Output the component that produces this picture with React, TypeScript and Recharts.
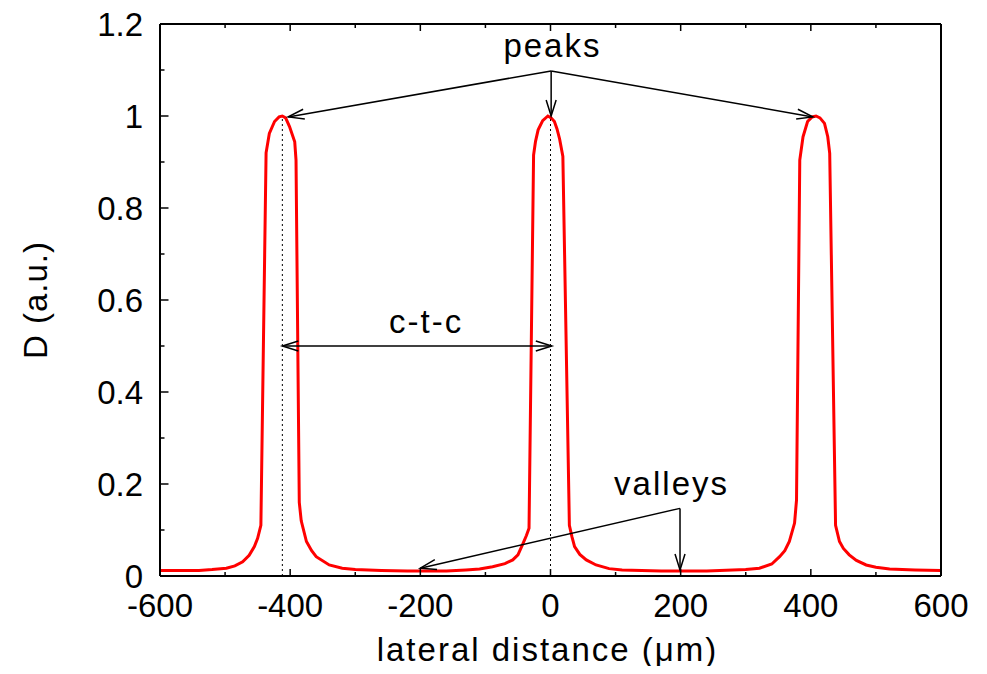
import React from 'react';
import { LineChart, Line, XAxis, YAxis, ReferenceLine, ReferenceDot } from 'recharts';

const FONT = '"Liberation Sans", Arial, sans-serif';

const xTicks = [-600, -500, -400, -300, -200, -100, 0, 100, 200, 300, 400, 500, 600];
const yTicks = [0, 0.1, 0.2, 0.3, 0.4, 0.5, 0.6, 0.7, 0.8, 0.9, 1.0, 1.1, 1.2];

// lateral distance (um) -> D (a.u.)
const profile: [number, number][] = [
  [-600, 0.012], [-560, 0.012], [-540, 0.012], [-520, 0.014], [-498, 0.017],
  [-485, 0.022], [-473, 0.031], [-463, 0.045], [-455, 0.064], [-450, 0.082],
  [-445, 0.11], [-437, 0.92], [-432, 0.962], [-424, 0.988], [-417, 0.998],
  [-412, 1.0], [-407, 0.996], [-401, 0.977], [-393, 0.944], [-391, 0.904],
  [-386, 0.16], [-383, 0.12], [-375, 0.075], [-367, 0.055], [-360, 0.042],
  [-340, 0.024], [-320, 0.017], [-300, 0.014], [-260, 0.012], [-220, 0.011],
  [-200, 0.011], [-160, 0.011], [-130, 0.013], [-109, 0.015], [-89, 0.02],
  [-70, 0.027], [-58, 0.035], [-50, 0.046], [-43, 0.068], [-37, 0.088],
  [-33, 0.104], [-26, 0.915], [-23, 0.945], [-19, 0.97], [-12, 0.99],
  [-4, 1.0], [1, 0.996], [6, 0.988], [10, 0.972], [14, 0.95],
  [19, 0.912], [29, 0.11], [33, 0.085], [37, 0.064], [45, 0.047],
  [55, 0.035], [70, 0.024], [90, 0.016], [110, 0.013], [140, 0.012],
  [170, 0.011], [200, 0.011], [240, 0.011], [280, 0.013], [300, 0.014],
  [321, 0.017], [340, 0.026], [352, 0.042], [360, 0.055], [367, 0.075],
  [375, 0.115], [378, 0.165], [383, 0.904], [388, 0.955], [395, 0.988],
  [402, 0.998], [408, 1.0], [414, 0.996], [421, 0.984], [426, 0.955],
  [429, 0.919], [438, 0.11], [444, 0.075], [450, 0.06], [459, 0.046],
  [470, 0.034], [485, 0.024], [500, 0.019], [521, 0.015], [560, 0.013],
  [600, 0.012],
];

const peakCentres = [-412, 0];
const peakArrowFrom = { x: 1, y: 1.098 };
const peakArrowTips = [{ x: -403, y: 0.998 }, { x: 1, y: 1.0 }, { x: 403, y: 0.998 }];
const ctcSpan = [{ x: -412, y: 0.5 }, { x: 2, y: 0.5 }];
const valleyArrowFrom = { x: 199, y: 0.147 };
const valleyArrowTips = [{ x: -200, y: 0.017 }, { x: 199, y: 0.013 }];
const notes = [
  { text: 'peaks', x: 3, y: 1.129 },
  { text: 'c-t-c', x: -191, y: 0.528 },
  { text: 'valleys', x: 186, y: 0.176 },
];

const data = profile.map(([x, d]) => ({ x, d }));

const head = (x1: number, y1: number, x2: number, y2: number) => {
  const a = Math.atan2(y2 - y1, x2 - x1);
  const len = 16;
  const w = 5;
  const bx = x2 - len * Math.cos(a);
  const by = y2 - len * Math.sin(a);
  const px = -Math.sin(a) * w;
  const py = Math.cos(a) * w;
  return (
    <polyline
      points={`${bx + px},${by + py} ${x2},${y2} ${bx - px},${by - py}`}
      fill="none"
      stroke="#000"
      strokeWidth={1.5}
    />
  );
};

const arrow = (both: boolean) => (p: any) => (
  <g>
    <line x1={p.x1} y1={p.y1} x2={p.x2} y2={p.y2} stroke="#000" strokeWidth={1.5} />
    {head(p.x1, p.y1, p.x2, p.y2)}
    {both && head(p.x2, p.y2, p.x1, p.y1)}
  </g>
);

const isMajorX = (v: number) => v % 200 === 0;
const isMajorY = (v: number) => Math.round(v * 10) % 2 === 0;
const yText = (v: number) => (v === 0 ? '0' : v === 1 ? '1' : v.toFixed(1));

const BottomTick = (p: any) => {
  const v = p.payload.value;
  return (
    <g>
      <line x1={p.x} y1={p.y} x2={p.x} y2={p.y - (isMajorX(v) ? 7 : 4)} stroke="#000" strokeWidth={1.5} />
      {isMajorX(v) && (
        <text x={p.x} y={p.y + 41} textAnchor="middle" fontSize={33} fontFamily={FONT} fill="#000">
          {v}
        </text>
      )}
    </g>
  );
};

const TopTick = (p: any) => {
  const v = p.payload.value;
  return <line x1={p.x} y1={p.y} x2={p.x} y2={p.y + (isMajorX(v) ? 7 : 4)} stroke="#000" strokeWidth={1.5} />;
};

const LeftTick = (p: any) => {
  const v = p.payload.value;
  return (
    <g>
      <line x1={p.x} y1={p.y} x2={p.x + (isMajorY(v) ? 8.5 : 4.5)} y2={p.y} stroke="#000" strokeWidth={1.5} />
      {isMajorY(v) && (
        <text x={p.x - 17} y={p.y + 12} textAnchor="end" fontSize={33} fontFamily={FONT} fill="#000">
          {yText(v)}
        </text>
      )}
    </g>
  );
};

const RightTick = (p: any) => {
  const v = p.payload.value;
  return <line x1={p.x} y1={p.y} x2={p.x - (isMajorY(v) ? 8.5 : 4.5)} y2={p.y} stroke="#000" strokeWidth={1.5} />;
};

const XTitle = (p: any) => {
  const vb = p.viewBox || { x: 160, y: 576, width: 781 };
  return (
    <text x={vb.x + vb.width / 2 - 3} y={vb.y + 85} textAnchor="middle" fontSize={33} fontFamily={FONT} letterSpacing={2} fill="#000">
      lateral distance (μm)
    </text>
  );
};

const YTitle = (p: any) => {
  const vb = p.viewBox || { x: 0, y: 24, width: 160, height: 552 };
  const x = vb.x + vb.width - 113;
  const y = vb.y + vb.height / 2;
  return (
    <text x={x} y={y} transform={`rotate(-90, ${x}, ${y})`} textAnchor="middle" fontSize={33} fontFamily={FONT} letterSpacing={1} fill="#000">
      D (a.u.)
    </text>
  );
};

const axisLine = { stroke: '#000', strokeWidth: 2 };

export default function App() {
  return (
    <div style={{ margin: -8, background: '#fff' }}>
      <LineChart width={987} height={674} data={data} margin={{ top: 0, right: 0, bottom: 0, left: 0 }}>
        <XAxis
          dataKey="x"
          type="number"
          domain={[-600, 600]}
          ticks={xTicks}
          interval={0}
          height={98}
          tickSize={0}
          tickMargin={0}
          tickLine={false}
          axisLine={axisLine}
          tick={<BottomTick />}
          label={<XTitle />}
        />
        <XAxis
          xAxisId="top"
          orientation="top"
          dataKey="x"
          type="number"
          domain={[-600, 600]}
          ticks={xTicks}
          interval={0}
          height={24}
          tickSize={0}
          tickMargin={0}
          tickLine={false}
          axisLine={axisLine}
          tick={<TopTick />}
        />
        <YAxis
          type="number"
          domain={[0, 1.2]}
          ticks={yTicks}
          interval={0}
          width={160}
          tickSize={0}
          tickMargin={0}
          tickLine={false}
          axisLine={axisLine}
          tick={<LeftTick />}
          label={<YTitle />}
        />
        <YAxis
          yAxisId="right"
          orientation="right"
          type="number"
          domain={[0, 1.2]}
          ticks={yTicks}
          interval={0}
          width={46}
          tickSize={0}
          tickMargin={0}
          tickLine={false}
          axisLine={axisLine}
          tick={<RightTick />}
        />
        {peakCentres.map((c) => (
          <ReferenceLine
            key={`c${c}`}
            segment={[{ x: c, y: 0 }, { x: c, y: 1.0 }]}
            stroke="#000"
            strokeWidth={1}
            strokeDasharray="2 3"
          />
        ))}
        <Line
          type="linear"
          dataKey="d"
          stroke="#ff0000"
          strokeWidth={3}
          dot={false}
          isAnimationActive={false}
        />
        {peakArrowTips.map((t, i) => (
          <ReferenceLine key={`p${i}`} segment={[peakArrowFrom, t]} shape={arrow(false)} />
        ))}
        <ReferenceLine segment={[ctcSpan[0], ctcSpan[1]]} shape={arrow(true)} />
        {valleyArrowTips.map((t, i) => (
          <ReferenceLine key={`v${i}`} segment={[valleyArrowFrom, t]} shape={arrow(false)} />
        ))}
        {notes.map((n) => (
          <ReferenceDot
            key={n.text}
            x={n.x}
            y={n.y}
            ifOverflow="visible"
            shape={(p: any) => (
              <text x={p.cx} y={p.cy} textAnchor="middle" fontSize={33} fontFamily={FONT} letterSpacing={2} fill="#000">
                {n.text}
              </text>
            )}
          />
        ))}
      </LineChart>
    </div>
  );
}
